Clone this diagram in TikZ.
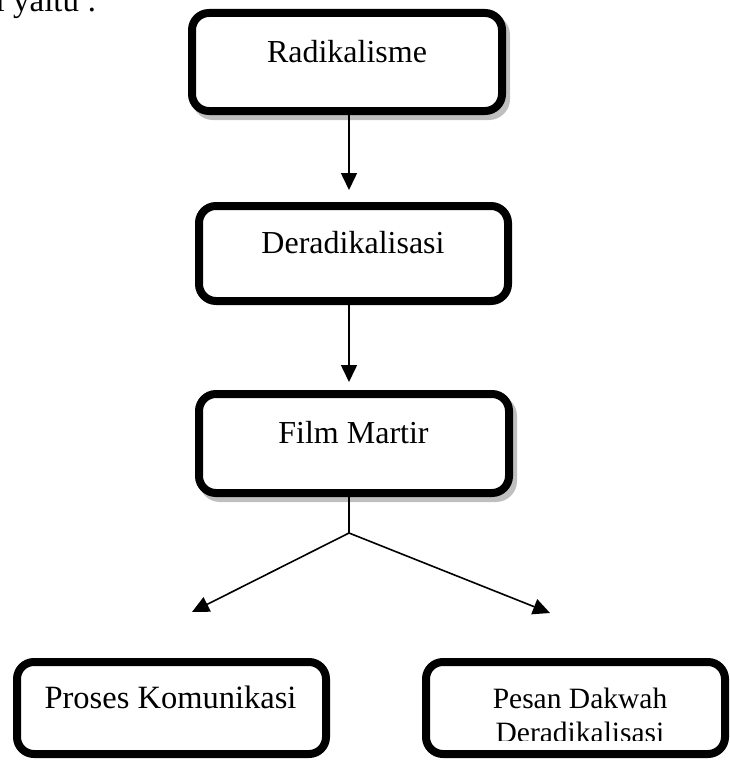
\documentclass[tikz,border=0pt]{standalone}
\usepackage{fontspec}
\setmainfont{Liberation Serif}
\usetikzlibrary{arrows.meta,calc}
\begin{document}
\begin{tikzpicture}[x=1pt,y=1pt,
  box/.style={draw=black, fill=white, line width=8pt, rounded corners=17pt,
    minimum width=#1, inner sep=0pt, outer sep=0pt},
  shad/.style={preaction={draw=black!25, fill=black!25, line width=8pt,
    transform canvas={shift={(4pt,-5pt)}}}},
  lbl/.style={anchor=base, inner sep=0pt, font=\fontsize{32}{38}\selectfont},
  conn/.style={line width=1.6pt},
  arr/.style={conn, -{Triangle[length=17pt,width=16pt]}}
]
\useasboundingbox (0,0) rectangle (729,-760);

% fragment of preceding text
\node[anchor=base west, inner sep=0pt, font=\fontsize{33}{38}\selectfont] (frag) at (-4.5,-12) {i yaitu :};

% boxes
\node[box=310pt, minimum height=98pt, shad] (b1) at (347,-62) {};
\node[box=309pt, minimum height=95pt] (b2) at (353.5,-253.5) {};
\node[box=310pt, minimum height=99pt, shad] (b3) at (354,-443.5) {};
\node[box=309pt, minimum height=92pt] (b4) at (171.5,-708) {};
\node[box=299pt, minimum height=92pt] (b5) at (575.5,-708) {};

% labels
\node[lbl] (t1) at (347,-63) {Radikalisme};
\node[lbl] (t2) at (353,-253) {Deradikalisasi};
\node[lbl] (t3) at (353.5,-443) {Film Martir};
\node[lbl, font=\fontsize{32.5}{38}\selectfont] (t4) at (170.5,-708) {Proses Komunikasi};
\node[lbl, font=\fontsize{29.5}{34}\selectfont] (t5) at (580,-708) {Pesan Dakwah};
\begin{scope}
  \clip (430,-665) rectangle (722,-740);
  \node[lbl, font=\fontsize{29.5}{34}\selectfont] (t6) at (580,-742) {Deradikalisasi};
\end{scope}

% connectors
\coordinate (a1) at (349,-190);
\coordinate (a2) at (349,-382);
\coordinate (j) at (349,-533);
\coordinate (l) at (192,-612);
\coordinate (r) at (550,-613);
\draw[arr] (b1.south -| a1) -- (a1);
\draw[arr] (b2.south -| a2) -- (a2);
\draw[conn] (b3.south -| j) -- (j);
\draw[arr] (j) -- (l);
\draw[arr] (j) -- (r);
\end{tikzpicture}
\end{document}
